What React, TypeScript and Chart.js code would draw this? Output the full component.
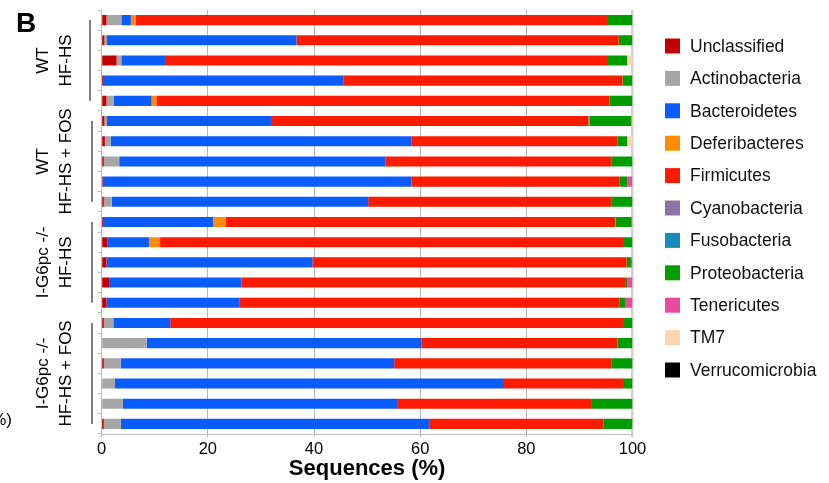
import React, { useEffect, useRef } from "react";
import { Chart, registerables } from "chart.js";

Chart.register(...registerables);

const FONT = '"Liberation Sans", Arial, Helvetica, sans-serif';

// 21 samples, top to bottom
const samples = [
  "WT HF-HS 1", "WT HF-HS 2", "WT HF-HS 3", "WT HF-HS 4", "WT HF-HS 5",
  "WT HF-HS+FOS 1", "WT HF-HS+FOS 2", "WT HF-HS+FOS 3", "WT HF-HS+FOS 4", "WT HF-HS+FOS 5",
  "I-G6pc HF-HS 1", "I-G6pc HF-HS 2", "I-G6pc HF-HS 3", "I-G6pc HF-HS 4", "I-G6pc HF-HS 5",
  "I-G6pc HF-HS+FOS 1", "I-G6pc HF-HS+FOS 2", "I-G6pc HF-HS+FOS 3", "I-G6pc HF-HS+FOS 4", "I-G6pc HF-HS+FOS 5", "I-G6pc HF-HS+FOS 6",
];

const groupLine1 = ["WT", "WT", "I-G6pc -/-", "I-G6pc -/-"];
const groupLine2 = ["HF-HS", "HF-HS + FOS", "HF-HS", "HF-HS + FOS"];
const groupSizes = [5, 5, 5, 6];

const phyla = [
  "Unclassified", "Actinobacteria", "Bacteroidetes", "Deferibacteres", "Firmicutes",
  "Cyanobacteria", "Fusobacteria", "Proteobacteria", "Tenericutes", "TM7", "Verrucomicrobia",
];
const phylaColors = [
  "#C20000", "#A6A6A6", "#0B5CFF", "#FF8C00", "#FF1A00",
  "#8E73A6", "#1A8BB8", "#009C00", "#E84A9C", "#FFD4B2", "#000000",
];

const unclassified = [0.9, 0.5, 2.8, 0.4, 0.9, 0.5, 0.6, 0.4, 0.2, 0.4, 0.4, 1.1, 0.9, 1.4, 0.9, 0.4, 0, 0.4, 0, 0, 0.4];
const actinobacteria = [2.8, 0.5, 0.9, 0, 1.4, 0.5, 1.1, 2.9, 0, 1.5, 0, 0, 0, 0, 0, 1.8, 8.5, 3.2, 2.5, 4.0, 3.2];
const bacteroidetes = [1.8, 35.7, 8.4, 45.1, 7.1, 30.9, 56.7, 50.2, 58.2, 48.3, 20.6, 7.8, 38.8, 24.9, 25.0, 10.7, 51.8, 51.5, 73.1, 51.8, 58.1];
const deferibacteres = [0.9, 0, 0, 0, 0.9, 0, 0, 0, 0, 0, 2.4, 2.1, 0, 0, 0, 0, 0, 0, 0, 0, 0];
const firmicutes = [88.8, 60.7, 83.1, 52.6, 85.4, 59.8, 38.8, 42.6, 39.2, 45.9, 73.3, 87.2, 59.2, 72.3, 71.7, 85.3, 36.9, 41.0, 22.6, 36.4, 32.8];
const cyanobacteria = [0, 0, 0, 0, 0, 0.2, 0, 0, 0, 0, 0.1, 0, 0, 0, 0, 0, 0, 0, 0, 0, 0];
const fusobacteria = [0, 0, 0, 0, 0, 0, 0, 0, 0, 0, 0, 0, 0, 0, 0, 0, 0, 0, 0, 0, 0];
const proteobacteria = [4.8, 2.6, 3.8, 1.9, 4.3, 7.9, 1.8, 3.9, 1.4, 3.9, 3.0, 1.8, 0.8, 0.4, 1.0, 1.8, 2.8, 3.9, 1.8, 7.8, 5.5];
const tenericutes = [0, 0, 0, 0, 0, 0, 0, 0, 1.0, 0, 0.2, 0, 0.3, 1.0, 1.4, 0, 0, 0, 0, 0, 0];
const tm7 = [0, 0, 1.0, 0, 0, 0.2, 1.0, 0, 0, 0, 0, 0, 0, 0, 0, 0, 0, 0, 0, 0, 0];
const verrucomicrobia = [0, 0, 0, 0, 0, 0, 0, 0, 0, 0, 0, 0, 0, 0, 0, 0, 0, 0, 0, 0, 0];

const seriesValues = [
  unclassified, actinobacteria, bacteroidetes, deferibacteres, firmicutes,
  cyanobacteria, fusobacteria, proteobacteria, tenericutes, tm7, verrucomicrobia,
];

const xTicks = [0, 20, 40, 60, 80, 100];

const decorPlugin = {
  id: "decor",
  afterDraw(chart: any) {
    const ctx = chart.ctx;
    const yScale = chart.scales.y;
    ctx.save();
    // panel letter
    ctx.fillStyle = "#000";
    ctx.font = `bold 28px ${FONT}`;
    ctx.textAlign = "left";
    ctx.textBaseline = "alphabetic";
    ctx.fillText("B", 16, 32);
    // clipped fragment from neighbouring panel
    ctx.font = `17px ${FONT}`;
    ctx.textAlign = "right";
    ctx.fillText("(%)", 12, 425);

    // group labels
    let start = 0;
    groupSizes.forEach((n, g) => {
      const y0 = yScale.getPixelForValue(start);
      const y1 = yScale.getPixelForValue(start + n - 1);
      const yc = (y0 + y1) / 2;
      ctx.strokeStyle = "#555";
      ctx.lineWidth = 1.5;
      ctx.beginPath();
      const lx = g === 0 ? 90 : 92;
      ctx.moveTo(lx, y0);
      ctx.lineTo(lx, y1);
      ctx.stroke();
      ctx.fillStyle = "#000";
      ctx.font = `17px ${FONT}`;
      ctx.textAlign = "center";
      ctx.textBaseline = "middle";
      const lines = [groupLine1[g], groupLine2[g]];
      const xs = [43.5, 66];
      lines.forEach((t, i) => {
        ctx.save();
        ctx.translate(xs[i], yc);
        ctx.rotate(-Math.PI / 2);
        ctx.fillText(t, 0, 0);
        ctx.restore();
      });
      start += n;
    });

    // legend
    chart.data.datasets.forEach((ds: any, i: number) => {
      const cy = 46 + i * 32.4;
      ctx.fillStyle = ds.backgroundColor;
      ctx.fillRect(665, cy - 7.5, 15, 15);
      ctx.fillStyle = "#111";
      ctx.font = `17.5px ${FONT}`;
      ctx.textAlign = "left";
      ctx.textBaseline = "middle";
      ctx.fillText(ds.label, 690, cy + 1);
    });
    ctx.restore();
  },
};

export default function App() {
  const ref = useRef<HTMLCanvasElement>(null);
  useEffect(() => {
    if (!ref.current) return;
    const chart = new Chart(ref.current, {
      type: "bar",
      data: {
        labels: samples,
        datasets: phyla.map((p, i) => ({
          label: p,
          data: seriesValues[i],
          backgroundColor: phylaColors[i],
          borderWidth: 0,
          barPercentage: 0.5,
          categoryPercentage: 1,
        })),
      },
      options: {
        indexAxis: "y",
        animation: false,
        responsive: false,
        layout: { padding: { top: 10, right: 196.5, left: 0, bottom: 0 } },
        plugins: { legend: { display: false }, tooltip: { enabled: false } },
        scales: {
          x: {
            stacked: true,
            min: 0,
            max: 100,
            afterBuildTicks: (s: any) => {
              s.ticks = xTicks.map((v) => ({ value: v }));
            },
            afterFit: (s: any) => {
              s.height = 49;
            },
            border: { color: "#bbb", width: 1 },
            grid: {
              color: (c: any) => (c.tick && c.tick.value === 100 ? "#d2d2d2" : "#b8b8b8"),
              lineWidth: (c: any) => (c.tick && c.tick.value === 100 ? 2.5 : 1),
              tickLength: 3,
              drawTicks: true,
            },
            ticks: {
              color: "#000",
              font: { size: 16.5, family: FONT },
              padding: 3,
              maxRotation: 0,
            },
            title: {
              display: true,
              text: "Sequences (%)",
              color: "#000",
              font: { size: 22, weight: "bold", family: FONT },
              padding: { top: 0, bottom: 1 },
            },
          },
          y: {
            stacked: true,
            afterFit: (s: any) => {
              s.width = 101.7;
            },
            border: { color: "#bbb", width: 1 },
            grid: {
              drawOnChartArea: false,
              drawTicks: true,
              tickLength: 4,
              color: "#bbb",
              offset: true,
            },
            ticks: { display: false },
          },
        },
      },
      plugins: [decorPlugin],
    } as any);
    return () => chart.destroy();
  }, []);
  return (
    <div style={{ position: "fixed", left: 0, top: 0, width: 829, height: 483, background: "#fff" }}>
      <canvas ref={ref} width={829} height={483} />
    </div>
  );
}
